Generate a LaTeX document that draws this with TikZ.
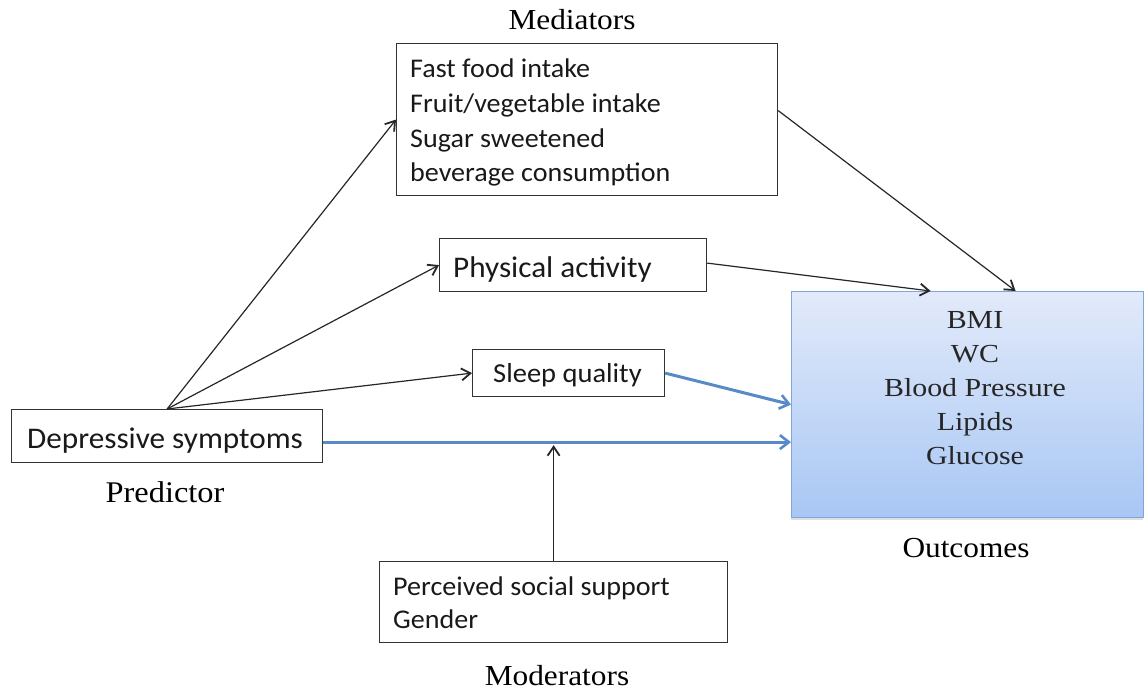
\documentclass[tikz,border=0pt]{standalone}
\usepackage{fontspec}
\setmainfont{Liberation Serif}
\newfontfamily\boxfont[FakeStretch=1.04]{Carlito}
\newfontfamily\outfont[FakeStretch=1.15]{Liberation Serif}
\newfontfamily\labfont[FakeStretch=1.08]{Liberation Serif}
\usetikzlibrary{arrows.meta,shadows}
\definecolor{arrowblue}{RGB}{88,138,200}
\definecolor{outtop}{RGB}{226,234,250}
\definecolor{outbot}{RGB}{168,199,244}
\definecolor{outborder}{RGB}{130,165,215}
\tikzset{
  box/.style={draw=black!80, line width=1.2pt, anchor=north west, inner sep=0pt},
  btext/.style={anchor=base west, align=left, inner sep=0pt, text=black!90},
  lab/.style={font=\labfont\fontsize{29}{34}\selectfont, anchor=base, inner sep=0pt},
  blk/.style={draw=black!85, line width=1.2pt, -{Straight Barb[length=9pt,width=12pt,line width=1.8pt]}},
  blu/.style={draw=arrowblue, line width=3pt, -{Straight Barb[length=9pt,width=14pt,line width=2.6pt]}},
}
\begin{document}
\begin{tikzpicture}[x=1pt,y=-1pt]
\useasboundingbox (0,0) rectangle (1144,690);
% boxes
\node[box, minimum width=381pt, minimum height=152pt] (med) at (396,43) {};
% anchor: baseline of the last line
\node[btext, font=\boxfont\fontsize{27}{34.7}\selectfont] (medtxt) at (410,182)
  {Fast food intake\\Fruit/vegetable intake\\Sugar sweetened\\beverage consumption};
\node[box, minimum width=267pt, minimum height=53pt] (phys) at (439,238) {};
\node[btext, font=\boxfont\fontsize{30}{34}\selectfont] (phystxt) at (453,277) {Physical activity};
\node[box, minimum width=192pt, minimum height=47pt] (sleep) at (472,349) {};
\node[btext, font=\boxfont\fontsize{27.4}{32}\selectfont] (sleeptxt) at (493,382) {Sleep quality};
\node[box, minimum width=311pt, minimum height=53pt] (dep) at (11,409) {};
\node[btext, font=\boxfont\fontsize{30}{34}\selectfont] (deptxt) at (27,448) {Depressive symptoms};
\node[box, minimum width=348pt, minimum height=81pt] (mod) at (379,561) {};
\node[btext, font=\boxfont\fontsize{27}{33.5}\selectfont] (modtxt) at (393,628.5) {Perceived social support\\Gender};
\node[anchor=north west, draw=outborder, line width=1.2pt, top color=outtop, bottom color=outbot,
      drop shadow={shadow xshift=-1pt, shadow yshift=-2pt, opacity=0.25},
      minimum width=352pt, minimum height=226pt, inner sep=0pt] (out) at (791,291) {};
\node[align=center, font=\outfont\fontsize{26}{34}\selectfont, text=black!85, inner sep=0pt] (outtxt) at (975,388)
  {BMI\\WC\\Blood Pressure\\Lipids\\Glucose};
% labels
\node[lab] (lmed) at (572,30) {Mediators};
\node[lab, font=\labfont\fontsize{30}{34}\selectfont] (lpred) at (165,502) {Predictor};
\node[lab] (lout) at (966,557) {Outcomes};
\node[lab] (lmod) at (557,685) {Moderators};
% arrows
\draw[blk] (dep.north) -- (med.west);
\draw[blk] (dep.north) -- (phys.west);
\draw[blk] (dep.north) -- (sleep.west);
\draw[blk] ([yshift=9pt]med.east) -- ([xshift=48pt]out.north);
\draw[blk] ([yshift=2pt]phys.east) -- ([xshift=-37pt]out.north);
\draw[blu] (sleep.east) -- (out.west);
\draw[blu] ([yshift=-6pt]dep.east) -- ([yshift=-6pt]dep.east -| out.west);
\draw[blk] (mod.north) -- ([yshift=-9pt]mod.north |- dep.east);
\end{tikzpicture}
\end{document}
